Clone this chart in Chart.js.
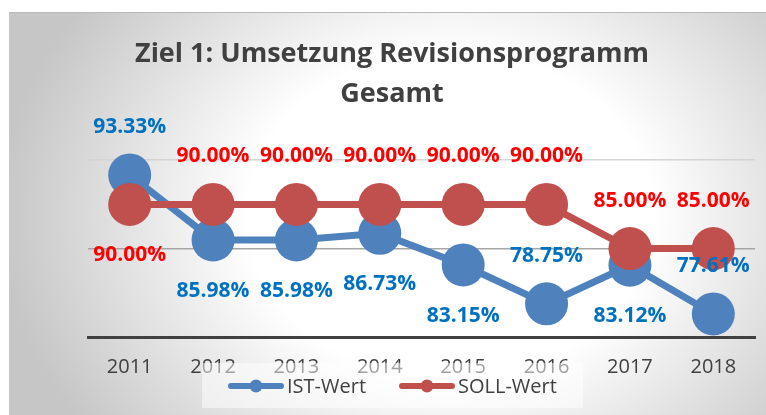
<!DOCTYPE html>
<html>
<head>
<meta charset="utf-8">
<script src="https://cdn.jsdelivr.net/npm/chart.js@4.4.0/dist/chart.umd.min.js"></script>
<style>
  html, body { margin: 0; padding: 0; background: #fff; }
  #wrap { width: 766px; height: 415px; }
</style>
</head>
<body>
<div id="wrap"><canvas id="my-chart" width="766" height="415"></canvas></div>
<script>
var years = ['2011', '2012', '2013', '2014', '2015', '2016', '2017', '2018'];
var istWert = [93.33, 85.98, 85.98, 86.73, 83.15, 78.75, 83.12, 77.61];
var sollWert = [90, 90, 90, 90, 90, 90, 85, 85];
var seriesNames = ['IST-Wert', 'SOLL-Wert'];
var titleLines = ['Ziel 1: Umsetzung Revisionsprogramm', 'Gesamt'];
var yTicks = [75, 85, 95];

// where the value label sits relative to its point
var istLabelPos = ['above', 'below', 'below', 'below', 'below', 'above', 'below', 'above'];
var sollLabelPos = ['below', 'above', 'above', 'above', 'above', 'above', 'above', 'above'];

var blue = '#4f81bd';
var red = '#c0504d';
var textGray = '#404040';

var backgroundPlugin = {
    id: 'background',
    beforeDraw: function(chart) {
        var ctx = chart.ctx;
        ctx.save();
        ctx.fillStyle = '#ffffff';
        ctx.fillRect(0, 0, chart.width, chart.height);
        ctx.translate(450, 215);
        ctx.scale(1, 0.8);
        var g = ctx.createRadialGradient(0, 0, 0, 0, 0, 450);
        g.addColorStop(0, '#ffffff');
        g.addColorStop(0.45, '#ffffff');
        g.addColorStop(1, '#c6c6c6');
        ctx.fillStyle = g;
        ctx.fillRect(9 - 450, (12 - 215) / 0.8, 757, 403 / 0.8);
        ctx.restore();
        ctx.save();
        ctx.strokeStyle = '#b8b8b8';
        ctx.lineWidth = 1;
        ctx.beginPath();
        ctx.moveTo(9, 12.5);
        ctx.lineTo(chart.width, 12.5);
        ctx.stroke();
        ctx.restore();
    }
};

var valueLabelPlugin = {
    id: 'valueLabels',
    afterDatasetsDraw: function(chart) {
        var ctx = chart.ctx;
        var setups = [
            { index: 0, pos: istLabelPos, color: '#0070c0' },
            { index: 1, pos: sollLabelPos, color: '#ff0000' }
        ];
        ctx.save();
        ctx.font = 'bold 21px "Open Sans"';
        ctx.textAlign = 'center';
        ctx.textBaseline = 'middle';
        setups.forEach(function(s) {
            var meta = chart.getDatasetMeta(s.index);
            var values = chart.data.datasets[s.index].data;
            ctx.fillStyle = s.color;
            meta.data.forEach(function(pt, i) {
                var dy = s.pos[i] === 'above' ? -48 : 51;
                ctx.fillText(values[i].toFixed(2) + '%', pt.x, pt.y + dy);
            });
        });
        ctx.restore();
    }
};

var titleLegendPlugin = {
    id: 'titleLegend',
    afterDraw: function(chart) {
        var ctx = chart.ctx;
        ctx.save();
        // title
        ctx.fillStyle = textGray;
        ctx.font = 'bold 27px "Open Sans"';
        ctx.textAlign = 'center';
        ctx.textBaseline = 'alphabetic';
        ctx.fillText(titleLines[0], 392, 62);
        ctx.fillText(titleLines[1], 392, 102);

        // legend box sits over the axis labels
        ctx.fillStyle = 'rgba(255,255,255,0.5)';
        ctx.fillRect(202, 363, 381, 45);

        var items = [
            { name: seriesNames[0], color: chart.data.datasets[0].borderColor, x: 228 },
            { name: seriesNames[1], color: chart.data.datasets[1].borderColor, x: 399 }
        ];
        ctx.font = '20px "Open Sans"';
        ctx.textAlign = 'left';
        items.forEach(function(it) {
            ctx.strokeStyle = it.color;
            ctx.lineWidth = 6;
            ctx.lineCap = 'round';
            ctx.beginPath();
            ctx.moveTo(it.x + 3, 386);
            ctx.lineTo(it.x + 53, 386);
            ctx.stroke();
            ctx.fillStyle = it.color;
            ctx.beginPath();
            ctx.arc(it.x + 28, 386, 6.5, 0, Math.PI * 2);
            ctx.fill();
            ctx.fillStyle = textGray;
            ctx.fillText(it.name, it.x + 59, 393);
        });
        ctx.restore();
    }
};

function createChart() {
    var ctx = document.getElementById('my-chart').getContext('2d');
    var chart = new Chart(ctx, {
        type: 'line',
        data: {
            labels: years,
            datasets: [
                {
                    label: seriesNames[0],
                    data: istWert,
                    borderColor: blue,
                    backgroundColor: blue,
                    borderWidth: 7,
                    pointRadius: 21.5,
                    pointHoverRadius: 21.5,
                    pointBorderWidth: 0,
                    pointBackgroundColor: blue,
                    tension: 0,
                    clip: false,
                    order: 2
                },
                {
                    label: seriesNames[1],
                    data: sollWert,
                    borderColor: red,
                    backgroundColor: red,
                    borderWidth: 7,
                    pointRadius: 21.5,
                    pointHoverRadius: 21.5,
                    pointBorderWidth: 0,
                    pointBackgroundColor: red,
                    tension: 0,
                    clip: false,
                    order: 1
                }
            ]
        },
        options: {
            responsive: false,
            animation: false,
            devicePixelRatio: 1,
            events: [],
            layout: {
                autoPadding: false,
                padding: { left: 88, right: 11, top: 116, bottom: 18 }
            },
            plugins: {
                legend: { display: false },
                title: { display: false },
                tooltip: { enabled: false }
            },
            scales: {
                x: {
                    offset: true,
                    grid: { display: false, drawTicks: false },
                    border: { display: true, color: textGray, width: 3 },
                    ticks: {
                        color: textGray,
                        font: { family: 'Open Sans', size: 20 },
                        padding: 18
                    }
                },
                y: {
                    min: 75,
                    max: 100,
                    afterBuildTicks: function(axis) {
                        axis.ticks = yTicks.map(function(v) { return { value: v }; });
                    },
                    ticks: { display: false },
                    border: { display: false },
                    grid: {
                        drawTicks: false,
                        lineWidth: 1.5,
                        color: function(c) {
                            if (c.tick && c.tick.value === 85) return '#a6a6a6';
                            return '#d4d4d4';
                        }
                    }
                }
            }
        },
        plugins: [backgroundPlugin, valueLabelPlugin, titleLegendPlugin]
    });
    return chart;
}

createChart();
</script>
</body>
</html>
